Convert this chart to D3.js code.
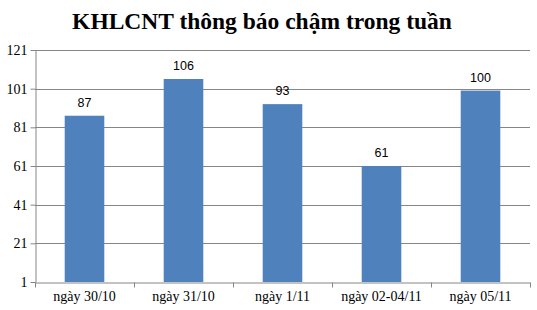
<!DOCTYPE html>
<html>
<head>
<meta charset="utf-8">
<script src="https://cdn.jsdelivr.net/npm/d3@7"></script>
<style>
    body { margin: 0; background: #fff; }
</style>
</head>
<body>
<div id="chart"></div>
<script>
// data
const categories = ["ngày 30/10", "ngày 31/10", "ngày 1/11", "ngày 02-04/11", "ngày 05/11"];
const values = [87, 106, 93, 61, 100];
const yTicks = [1, 21, 41, 61, 81, 101, 121];
const title = "KHLCNT thông báo chậm trong tuần";

const W = 537, H = 310;
const margin = {top: 50, right: 7, bottom: 28, left: 35},
    width = W - margin.left - margin.right,
    height = H - margin.top - margin.bottom;

const root = d3.select("#chart").append("svg")
    .attr("width", W)
    .attr("height", H);

root.append("text")
    .attr("x", 262)
    .attr("y", 29)
    .attr("text-anchor", "middle")
    .style("font-family", "'Liberation Serif', 'Times New Roman', serif")
    .style("font-weight", "bold")
    .style("font-size", "23.5px")
    .attr("fill", "#000")
    .text(title);

const svg = root.append("g")
    .attr("transform", `translate(${margin.left},${margin.top})`);

const x = d3.scaleBand()
    .domain(categories)
    .range([0, width])
    .paddingInner(0.6)
    .paddingOuter(0.3);

const y = d3.scaleLinear()
    .domain([1, 121])
    .range([height, 0]);

// gridlines
svg.append("g")
    .selectAll("line")
    .data(yTicks.slice(1))
    .enter().append("line")
    .attr("x1", 0)
    .attr("x2", width)
    .attr("y1", d => Math.round(y(d)) + 0.5)
    .attr("y2", d => Math.round(y(d)) + 0.5)
    .attr("stroke", "#868686")
    .attr("stroke-width", 1);

// bars
svg.append("g")
    .selectAll("rect")
    .data(values)
    .enter().append("rect")
    .attr("x", (d, i) => x(categories[i]))
    .attr("width", x.bandwidth())
    .attr("y", d => y(d))
    .attr("height", d => height - y(d))
    .attr("fill", "#4F81BD");

// value labels
svg.append("g")
    .selectAll("text")
    .data(values)
    .enter().append("text")
    .attr("x", (d, i) => x(categories[i]) + x.bandwidth() / 2)
    .attr("y", d => y(d) - 9)
    .attr("text-anchor", "middle")
    .style("font-family", "'Liberation Sans', Arial, sans-serif")
    .style("font-size", "12.5px")
    .attr("fill", "#000")
    .text(d => d);

// y axis
const yAxis = svg.append("g")
    .attr("transform", "translate(0.5,0)")
    .call(d3.axisLeft(y).tickValues(yTicks).tickSize(5).tickSizeOuter(0).tickPadding(3));

// x axis, ticks sit between categories
const step = width / categories.length;
const xAxis = svg.append("g")
    .attr("transform", `translate(0,${Math.round(height) + 0.5})`)
    .call(d3.axisBottom(x).tickSize(0).tickSizeOuter(0).tickPadding(9));

xAxis.selectAll(".sep")
    .data(d3.range(categories.length + 1))
    .enter().append("line")
    .attr("class", "sep")
    .attr("x1", i => Math.round(i * step) + 0.5)
    .attr("x2", i => Math.round(i * step) + 0.5)
    .attr("y1", 0)
    .attr("y2", 5)
    .attr("stroke", "#868686");

[yAxis, xAxis].forEach(a => {
    a.selectAll("path, line").attr("stroke", "#868686");
    a.selectAll("text")
        .style("font-family", "'Liberation Serif', 'Times New Roman', serif")
        .style("font-size", "14px")
        .attr("fill", "#000");
});
</script>
</body>
</html>
